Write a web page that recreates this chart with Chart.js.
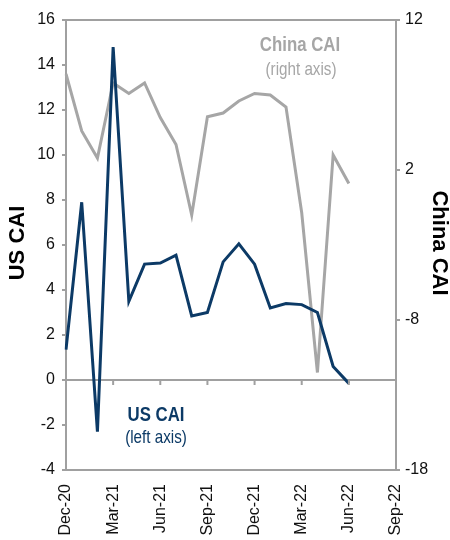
<!DOCTYPE html>
<html lang="en">
<head>
  <meta charset="UTF-8" />
  <title>US and China CAI</title>
  <script src="https://cdn.jsdelivr.net/npm/chart.js"></script>
  <style>
    html, body { margin: 0; padding: 0; background: #fff; }
    #wrap { width: 450px; height: 540px; }
  </style>
</head>
<body>
  <div id="wrap"><canvas id="cai"></canvas></div>

  <script>
    const months = ["Dec-20", "Jan-21", "Feb-21", "Mar-21", "Apr-21", "May-21", "Jun-21", "Jul-21",
      "Aug-21", "Sep-21", "Oct-21", "Nov-21", "Dec-21", "Jan-22", "Feb-22", "Mar-22", "Apr-22",
      "May-22", "Jun-22", "Jul-22", "Aug-22", "Sep-22"];
    const usCai = [1.35, 7.9, -2.3, 14.8, 3.5, 5.15, 5.2, 5.55, 2.85, 3.0, 5.25, 6.05, 5.15,
      3.2, 3.4, 3.35, 3.0, 0.6, -0.15];
    const chinaCai = [8.4, 4.6, 2.8, 7.8, 7.1, 7.8, 5.5, 3.7, -1.0, 5.55, 5.8, 6.6, 7.1,
      7.0, 6.2, -0.85, -11.5, 3.0, 1.1];
    const leftTicks = [-4, -2, 0, 2, 4, 6, 8, 10, 12, 14, 16];
    const rightTicks = [-18, -8, 2, 12];

    const navy = "#0c3a66";
    const grey = "#a6a6a6";
    const axisGrey = "#a0a0a0";
    const sans = "'Liberation Sans', Arial, sans-serif";

    // condensed text: the original uses a narrow face
    function narrowText(c, txt, x, y, font, squeeze) {
      c.save();
      c.translate(x, y);
      c.scale(squeeze, 1);
      c.font = font;
      c.fillText(txt, 0, 0);
      c.restore();
    }

    // texts, top border and the small ticks on the zero line
    const extras = {
      id: "extras",
      afterDraw(chart) {
        const c = chart.ctx, a = chart.chartArea;
        const x = chart.scales.x, y = chart.scales.y;
        c.save();
        c.strokeStyle = axisGrey;
        c.lineWidth = 2;
        c.beginPath();
        c.moveTo(a.left, a.top);
        c.lineTo(a.right, a.top);
        const y0 = y.getPixelForValue(0);
        months.forEach((m, i) => {
          if (i % 3 === 0 && i > 0) {
            const px = x.getPixelForValue(i);
            c.moveTo(px, y0);
            c.lineTo(px, y0 + 5);
          }
        });
        c.stroke();

        c.textAlign = "center";
        c.textBaseline = "middle";
        c.fillStyle = grey;
        narrowText(c, "China CAI", 300, 45, "bold 21px " + sans, 0.8);
        narrowText(c, "(right axis)", 301, 70, "19px " + sans, 0.8);
        c.fillStyle = navy;
        narrowText(c, "US CAI", 156, 415, "bold 21px " + sans, 0.8);
        narrowText(c, "(left axis)", 156, 438, "19px " + sans, 0.8);

        c.fillStyle = "#000";
        c.font = "bold 22px " + sans;
        c.save();
        c.translate(18, 243);
        c.rotate(-Math.PI / 2);
        c.fillText("US CAI", 0, 0);
        c.restore();
        c.save();
        c.translate(439, 243);
        c.rotate(Math.PI / 2);
        c.fillText("China CAI", 0, 0);
        c.restore();
        c.restore();
      }
    };

    new Chart(document.getElementById("cai"), {
      type: "line",
      data: {
        labels: months,
        datasets: [
          {
            label: "US CAI",
            data: usCai,
            yAxisID: "y",
            borderColor: navy,
            borderWidth: 3,
            pointRadius: 0,
            tension: 0
          },
          {
            label: "China CAI",
            data: chinaCai,
            yAxisID: "y2",
            borderColor: grey,
            borderWidth: 3,
            pointRadius: 0,
            tension: 0
          }
        ]
      },
      options: {
        responsive: true,
        maintainAspectRatio: false,
        animation: false,
        layout: { padding: { top: 20, left: 0, right: 0, bottom: 0 } },
        plugins: { legend: { display: false }, tooltip: { enabled: false } },
        scales: {
          x: {
            offset: false,
            grid: { display: false, drawTicks: false },
            border: { color: axisGrey, width: 2 },
            ticks: {
              autoSkip: false,
              minRotation: 90,
              maxRotation: 90,
              padding: 14,
              color: "#111",
              font: { family: sans, size: 16 },
              callback: (v, i) => (i % 3 === 0 ? months[i] : "")
            },
            afterFit: s => { s.height = 70; }
          },
          y: {
            position: "left",
            min: -4,
            max: 16,
            afterBuildTicks: s => { s.ticks = leftTicks.map(v => ({ value: v })); },
            grid: {
              drawOnChartArea: true,
              color: ctx => (ctx.tick && ctx.tick.value === 0 ? axisGrey : "rgba(0,0,0,0)"),
              tickColor: axisGrey,
              tickLength: 4,
              lineWidth: 2
            },
            border: { color: axisGrey, width: 2 },
            ticks: { padding: 7, color: "#111", font: { family: sans, size: 16 } },
            afterFit: s => { s.width = 66; }
          },
          y2: {
            position: "right",
            min: -18,
            max: 12,
            afterBuildTicks: s => { s.ticks = rightTicks.map(v => ({ value: v })); },
            grid: { drawOnChartArea: false, tickColor: axisGrey, tickLength: 4, lineWidth: 2 },
            border: { color: axisGrey, width: 2 },
            ticks: { padding: 5, color: "#111", font: { family: sans, size: 16 } },
            afterFit: s => { s.width = 54; }
          }
        }
      },
      plugins: [extras]
    });
  </script>
</body>
</html>
